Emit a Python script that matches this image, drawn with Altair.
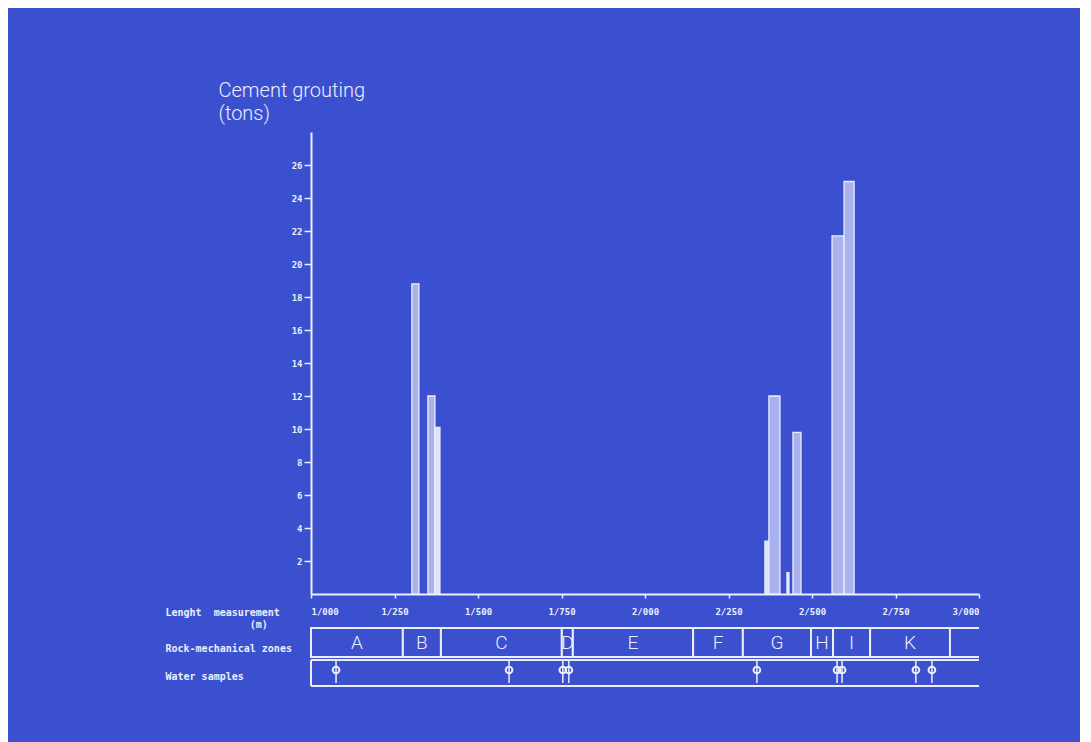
import altair as alt
import pandas as pd

BLUE = "#3a50cf"
INK = "#eceefc"
MONO = "DejaVu Sans Mono"
LIGHT = "Roboto"

# Cement grouting bars (metres along tunnel, tons)
bar_start = [1302, 1350, 1371, 2359, 2371, 2425, 2443, 2560, 2596]
bar_end = [1323, 1371, 1386, 2371, 2404, 2431, 2467, 2596, 2626]
bar_tons = [18.8, 12.0, 10.1, 3.2, 12.0, 1.3, 9.8, 21.7, 25.0]
bar_kind = ["hatched", "hatched", "plain", "plain", "hatched", "plain", "hatched", "hatched", "hatched"]

# Rock-mechanical zones
zone_names = ["A", "B", "C", "D", "E", "F", "G", "H", "I", "K"]
zone_bounds = [1000, 1275, 1389, 1751, 1784, 2144, 2293, 2497, 2563, 2674, 2913]

# Water sample positions (m)
water_samples = [1075, 1593, 1754, 1772, 2335, 2575, 2590, 2811, 2859]

x_ticks = [1000, 1250, 1500, 1750, 2000, 2250, 2500, 2750, 3000]
y_ticks = [2, 4, 6, 8, 10, 12, 14, 16, 18, 20, 22, 24, 26]

bars = pd.DataFrame({"start": bar_start, "end": bar_end, "tons": bar_tons, "kind": bar_kind})
zones = pd.DataFrame({"zone": zone_names, "start": zone_bounds[:-1], "end": zone_bounds[1:]})
water = pd.DataFrame({"pos": water_samples})
one = pd.DataFrame({"k": [0]})

xscale = alt.Scale(domain=[1000, 3000], nice=False, zero=False)

top = alt.Chart(bars).mark_rect(stroke=INK, strokeWidth=1.3).encode(
    x=alt.X(
        "start:Q",
        scale=xscale,
        axis=alt.Axis(
            values=x_ticks,
            labelExpr="floor(datum.value/1000) + '/' + (datum.value % 1000 == 0 ? '000' : datum.value % 1000)",
            title=["Lenght\u2007\u2007measurement", "\u200b" + "\u2007" * 14 + "(m)"],
            titleX=-146, titleY=13, titleAlign="left", titleBaseline="top",
            titleFont=MONO, titleFontSize=10, titleFontWeight="bold", titleLineHeight=12,
            titleColor=INK,
            labelFont=MONO, labelFontSize=9, labelFontWeight="bold", labelColor=INK,
            labelPadding=9, tickSize=4, tickColor=INK, domainColor=INK, domainWidth=2,
            tickWidth=1.5, grid=False,
        ),
    ),
    x2="end:Q",
    y=alt.Y(
        "tons:Q",
        scale=alt.Scale(domain=[0, 28], nice=False),
        axis=alt.Axis(
            values=y_ticks,
            title=["Cement grouting", "(tons)"],
            titleAngle=0, titleAlign="left", titleBaseline="top",
            titleX=-93, titleY=-52, titleFont=LIGHT, titleFontSize=20,
            titleFontWeight=300, titleLineHeight=23, titleColor=INK,
            labelFont=MONO, labelFontSize=9, labelFontWeight="bold", labelColor=INK,
            labelPadding=2, tickSize=7, tickColor=INK, tickWidth=1.5,
            domainColor=INK, domainWidth=2, grid=False,
        ),
    ),
    y2=alt.datum(0),
    color=alt.Color("kind:N", scale=alt.Scale(domain=["hatched", "plain"], range=["#a9b1ee", "#dfe2fb"]), legend=None),
).properties(width=668, height=462)

lowscale = alt.Scale(domain=[0, 58], nice=False)
xl = alt.X("start:Q", scale=xscale, axis=None)

zone_rect = alt.Chart(zones).mark_rect(fill=BLUE, stroke=INK, strokeWidth=2).encode(
    x=xl,
    x2="end:Q",
    y=alt.Y(
        datum=29,
        scale=lowscale,
        axis=alt.Axis(
            values=[38, 10],
            labelExpr="datum.value > 20 ? 'Rock-mechanical zones' : 'Water samples'",
            title=None, domain=False, ticks=False, grid=False,
            labelAlign="left", labelBaseline="middle", labelPadding=146,
            labelFont=MONO, labelFontSize=10, labelFontWeight="bold", labelColor=INK,
        ),
    ),
    y2=alt.datum(58),
)

zone_text = alt.Chart(zones).transform_calculate(mid="(datum.start + datum.end) / 2").mark_text(
    font=LIGHT, fontSize=19, fontWeight=300, color=INK, baseline="middle"
).encode(
    x=alt.X("mid:Q", scale=xscale, axis=None),
    y=alt.Y(datum=43, scale=lowscale),
    text="zone:N",
)

frame_lines = alt.Chart(pd.DataFrame({"yv": [58, 29, 26, 0]})).mark_rule(color=INK, strokeWidth=2).encode(
    x=alt.X(datum=1000, scale=xscale, axis=None),
    x2=alt.datum(3000),
    y=alt.Y("yv:Q", scale=lowscale),
)

water_edge = alt.Chart(one).mark_rule(color=INK, strokeWidth=2).encode(
    x=alt.X(datum=1000, scale=xscale, axis=None),
    y=alt.Y(datum=0, scale=lowscale),
    y2=alt.datum(26),
)

water_rule = alt.Chart(water).mark_rule(color=INK, strokeWidth=1.5).encode(
    x=alt.X("pos:Q", scale=xscale, axis=None),
    y=alt.Y(datum=3, scale=lowscale),
    y2=alt.datum(25),
)

water_pt = alt.Chart(water).mark_point(shape="circle", filled=False, color=INK, strokeWidth=2, size=45, opacity=1).encode(
    x=alt.X("pos:Q", scale=xscale, axis=None),
    y=alt.Y(datum=16, scale=lowscale),
)

low = alt.layer(zone_rect, frame_lines, water_edge, zone_text, water_rule, water_pt).properties(width=668, height=58)

chart = alt.vconcat(top, low, spacing=34, bounds="flush").properties(
    padding={"left": 157, "top": 72, "right": 100, "bottom": 56},
    background=BLUE,
).configure_view(stroke=None)

chart.save("out.html", embed_options={"renderer": "svg", "actions": False})
